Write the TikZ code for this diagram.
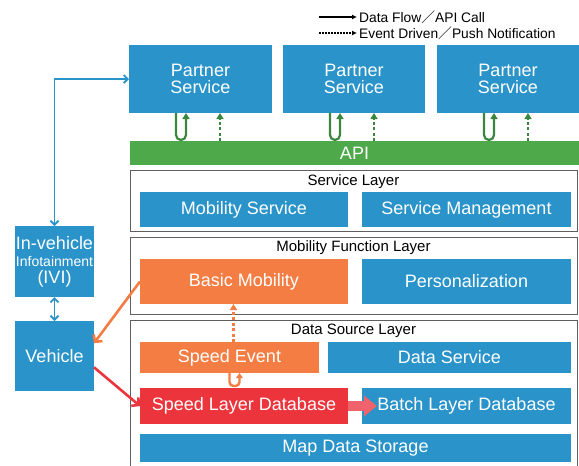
\documentclass[tikz,border=0pt]{standalone}
\usepackage{fontspec}
\setmainfont{Liberation Sans}
\newfontfamily\cjk{Noto Sans CJK JP}
\usepackage{tikz}
\usetikzlibrary{arrows.meta}

\definecolor{boxblue}{RGB}{42,147,201}
\definecolor{boxorange}{RGB}{243,125,66}
\definecolor{boxred}{RGB}{236,52,60}
\definecolor{fatred}{RGB}{240,98,108}
\definecolor{apigreen}{RGB}{78,169,74}
\definecolor{arrgreen}{RGB}{58,134,62}
\definecolor{framegray}{RGB}{95,95,95}

\begin{document}
\begin{tikzpicture}[x=1pt,y=-1pt,
    box/.style={fill=boxblue,text=white,inner sep=0pt,outer sep=0pt,align=center,font=\fontsize{18}{17}\selectfont},
    layer/.style={draw=framegray,line width=1pt,inner sep=0pt},
    lbl/.style={inner sep=0pt,font=\fontsize{15}{16}\selectfont},
    legend/.style={inner sep=0pt,anchor=west,font=\fontsize{13.8}{15}\selectfont},
    barrow/.style={draw=boxblue,line width=1.8pt,{Straight Barb[length=4pt,width=8pt]}-{Straight Barb[length=4pt,width=8pt]}},
    garrow/.style={draw=arrgreen,line width=2.2pt,-{Triangle[length=6pt,width=7pt]}},
    gdot/.style={garrow,dash pattern=on 3pt off 2.5pt}]
    \useasboundingbox (0,0) rectangle (579,466);

    % Legend
    \coordinate (l1) at (319,17);
    \coordinate (l2) at (319,33);
    \node[legend] (lg1) at (359,17) {Data Flow{\cjk ／}API Call};
    \node[legend] (lg2) at (359,33) {Event Driven{\cjk ／}Push Notification};
    \draw[line width=1.5pt,-{Latex[length=5pt,width=5pt]},shorten >=2pt] (l1) -- (lg1.west);
    \draw[line width=1.5pt,dash pattern=on 1.5pt off 1.5pt,-{Latex[length=5pt,width=5pt]},shorten >=2pt] (l2) -- (lg2.west);

    % Partner services and API
    \node[box,minimum width=143pt,minimum height=68pt] (ps1) at (200.5,79) {Partner\\Service};
    \node[box,minimum width=142pt,minimum height=68pt] (ps2) at (354,79) {Partner\\Service};
    \node[box,minimum width=142pt,minimum height=68pt] (ps3) at (508,79) {Partner\\Service};
    \node[box,fill=apigreen,minimum width=449pt,minimum height=24pt] (api) at (354.5,153) {API};
    \foreach \p in {ps1,ps2,ps3} {
        \coordinate (u) at ([xshift=47pt]\p.south west); % U-turn call
        \coordinate (d) at ([xshift=91pt]\p.south west); % push
        \draw[garrow,rounded corners=5pt] (u) -- ++(0,27) -- ++(10,0) -- ++(0,-27);
        \draw[gdot] (d |- api.north) -- (d);
    }

    % Service Layer
    \node[layer,minimum width=447pt,minimum height=61pt] (svcl) at (353.5,200.5) {};
    \node[lbl] (svclt) at (353.5,182) {Service Layer};
    \node[box,minimum width=208pt,minimum height=35pt] (mobs) at (244,209.5) {Mobility Service};
    \node[box,minimum width=209pt,minimum height=35pt] (svcm) at (466.5,209.5) {Service Management};

    % Mobility Function Layer
    \node[layer,minimum width=447pt,minimum height=77pt] (mfl) at (353.5,275.5) {};
    \node[lbl] (mflt) at (353.5,248) {Mobility Function Layer};
    \node[box,fill=boxorange,minimum width=208pt,minimum height=45pt] (basic) at (244,281.5) {Basic Mobility};
    \node[box,minimum width=209pt,minimum height=45pt] (pers) at (466.5,281.5) {Personalization};

    % Data Source Layer
    \draw[framegray,line width=1pt] (130,466) -- (130,320) -- (577,320) -- (577,466);
    \node[lbl] (dslt) at (353.5,331) {Data Source Layer};
    \node[box,fill=boxorange,minimum width=179pt,minimum height=31pt] (sevt) at (229.5,357.5) {Speed Event};
    \node[box,minimum width=243pt,minimum height=31pt] (dsvc) at (449.5,357.5) {Data Service};
    \node[box,fill=boxred,minimum width=208pt,minimum height=36pt] (sldb) at (244,406) {Speed Layer Database};
    \node[box,minimum width=209pt,minimum height=36pt] (bldb) at (466.5,406) {Batch Layer Database};
    \node[box,minimum width=431pt,minimum height=28pt] (map) at (355.5,448) {Map Data Storage};

    % Vehicle side
    \node[box,minimum width=79pt,minimum height=71pt] (ivi) at (54.5,261.5)
        {In-vehicle\\{\fontsize{14}{15}\selectfont Infotainment}\\(IVI)};
    \node[box,minimum width=79pt,minimum height=70pt] (veh) at (54.5,356) {Vehicle};

    \draw[barrow] (ivi.north) |- (ps1.west);
    \draw[barrow] (ivi.south) -- (veh.north);
    \draw[boxorange,line width=2.6pt,-{Straight Barb[length=5pt,width=11pt]}] (basic.west) -- (veh.18);
    \draw[boxred,line width=2.6pt,-{Straight Barb[length=5pt,width=11pt]}] (veh.-16) -- (sldb.west);

    \coordinate (se) at ([xshift=4pt]sevt.north);
    \draw[boxorange,line width=2.4pt,dash pattern=on 3pt off 2.5pt,-{Triangle[length=6pt,width=7pt]}] (se) -- (se |- basic.south);
    \draw[boxorange,line width=2.4pt,rounded corners=4pt,-{Triangle[length=5pt,width=6.5pt]}] (sevt.south) -- ++(0,13) -- ++(10,0) -- ++(0,-13);
    \draw[fatred,line width=10pt,-{Triangle[length=13pt,width=20pt]}] (sldb.east) -- ([xshift=15pt]bldb.west);
\end{tikzpicture}
\end{document}
